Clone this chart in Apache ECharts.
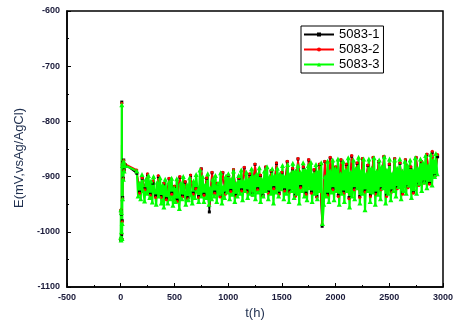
<!DOCTYPE html>
<html>
<head>
<meta charset="utf-8">
<script src="https://cdn.jsdelivr.net/npm/echarts@6/dist/echarts.min.js"></script>
<style>
  html, body { margin: 0; padding: 0; background: #fff; }
  #main { width: 458px; height: 332px; }
</style>
</head>
<body>
<div id="main"></div>
<script>
  // 时间 t(h)，5083-1 / 5083-2 用
  var timesA = [0, 2, 4, 6, 8, 10, 12, 14, 16, 18, 20, 24, 28, 32, 40,
    150, 175, 200, 225, 250, 275, 300, 325,
    350, 375, 400, 425, 450, 475, 500, 525,
    550, 575, 600, 625, 650, 675, 700, 725,
    750, 775, 800, 825, 850, 875, 900, 925,
    950, 975, 1000, 1025, 1050, 1075, 1100, 1125,
    1150, 1175, 1200, 1225, 1250, 1275, 1300, 1325,
    1350, 1375, 1400, 1425, 1450, 1475, 1500, 1525,
    1550, 1575, 1600, 1625, 1650, 1675, 1700, 1725,
    1750, 1775, 1800, 1825, 1850, 1875, 1900, 1925,
    1950, 1975, 2000, 2025, 2050, 2075, 2100, 2125,
    2150, 2175, 2200, 2225, 2250, 2275, 2300, 2325,
    2350, 2375, 2400, 2425, 2450, 2475, 2500, 2525,
    2550, 2575, 2600, 2625, 2650, 2675, 2700, 2725,
    2750, 2775, 2800, 2825, 2850, 2875, 2900, 2925,
    2950];

  // 时间 t(h)，5083-3 用 (采样更密)
  var timesB = [0, 2, 4, 6, 8, 10, 12, 14, 16, 18, 20, 24, 28, 32, 40,
    150, 162, 174, 186, 198, 210, 222, 234, 246, 258,
    270, 282, 294, 306, 318, 330, 342, 354, 366, 378,
    390, 402, 414, 426, 438, 450, 462, 474, 486, 498,
    510, 522, 534, 546, 558, 570, 582, 594, 606, 618,
    630, 642, 654, 666, 678, 690, 702, 714, 726, 738,
    750, 762, 774, 786, 798, 810, 822, 834, 846, 858,
    870, 882, 894, 906, 918, 930, 942, 954, 966, 978,
    990, 1002, 1014, 1026, 1038, 1050, 1062, 1074, 1086, 1098,
    1110, 1122, 1134, 1146, 1158, 1170, 1182, 1194, 1206, 1218,
    1230, 1242, 1254, 1266, 1278, 1290, 1302, 1314, 1326, 1338,
    1350, 1362, 1374, 1386, 1398, 1410, 1422, 1434, 1446, 1458,
    1470, 1482, 1494, 1506, 1518, 1530, 1542, 1554, 1566, 1578,
    1590, 1602, 1614, 1626, 1638, 1650, 1662, 1674, 1686, 1698,
    1710, 1722, 1734, 1746, 1758, 1770, 1782, 1794, 1806, 1818,
    1830, 1842, 1854, 1866, 1878, 1890, 1902, 1914, 1926, 1938,
    1950, 1962, 1974, 1986, 1998, 2010, 2022, 2034, 2046, 2058,
    2070, 2082, 2094, 2106, 2118, 2130, 2142, 2154, 2166, 2178,
    2190, 2202, 2214, 2226, 2238, 2250, 2262, 2274, 2286, 2298,
    2310, 2322, 2334, 2346, 2358, 2370, 2382, 2394, 2406, 2418,
    2430, 2442, 2454, 2466, 2478, 2490, 2502, 2514, 2526, 2538,
    2550, 2562, 2574, 2586, 2598, 2610, 2622, 2634, 2646, 2658,
    2670, 2682, 2694, 2706, 2718, 2730, 2742, 2754, 2766, 2778,
    2790, 2802, 2814, 2826, 2838, 2850, 2862, 2874, 2886, 2898,
    2910, 2922, 2934, 2946];

  var e5083_1 = [-1015, -962, -1012, -968, -1005, -765, -1014, -980, -878, -938, -874, -903, -870, -888, -878,
    -894, -928, -903, -922, -896, -932, -912, -935,
    -900, -936, -913, -940, -904, -930, -918, -942,
    -901, -935, -910, -938, -898, -930, -922, -936,
    -886, -932, -903, -964, -893, -928, -913, -935,
    -893, -930, -898, -925, -888, -934, -903, -924,
    -884, -926, -896, -932, -878, -922, -898, -934,
    -883, -928, -890, -920, -876, -930, -893, -924,
    -873, -926, -886, -934, -868, -918, -883, -930,
    -870, -928, -888, -936, -878, -990, -873, -932,
    -866, -922, -883, -934, -870, -928, -878, -938,
    -863, -922, -876, -936, -868, -926, -880, -934,
    -866, -930, -873, -922, -864, -934, -878, -926,
    -868, -920, -876, -930, -870, -918, -883, -928,
    -866, -914, -873, -910, -860, -912, -856, -898,
    -864];

  var e5083_2 = [-1012, -960, -1014, -965, -1002, -767, -1013, -982, -879, -940, -875, -904, -871, -889, -877,
    -888, -930, -902, -924, -895, -934, -908, -938,
    -898, -938, -912, -942, -903, -932, -917, -945,
    -900, -937, -909, -940, -897, -932, -922, -938,
    -886, -934, -902, -950, -892, -930, -912, -937,
    -892, -932, -897, -927, -887, -936, -902, -926,
    -883, -928, -895, -934, -877, -924, -897, -936,
    -882, -930, -889, -922, -875, -932, -892, -926,
    -872, -928, -885, -936, -867, -920, -882, -932,
    -869, -930, -887, -938, -877, -986, -872, -934,
    -865, -924, -882, -936, -869, -930, -877, -940,
    -862, -924, -875, -938, -867, -928, -879, -936,
    -865, -932, -872, -924, -863, -936, -877, -928,
    -867, -922, -875, -932, -869, -920, -882, -930,
    -865, -916, -872, -912, -859, -914, -854, -900,
    -860];

  var e5083_3 = [-1010, -960, -1015, -965, -1000, -770, -1012, -985, -880, -940, -875, -905, -872, -890, -880,
    -890, -935, -912, -940, -896, -925, -944, -905, -930, -898,
    -938, -908, -946, -900, -926, -950, -910, -935, -902, -948,
    -915, -955, -905, -930, -948, -910, -940, -903, -952, -920,
    -945, -904, -935, -958, -912, -940, -900, -928, -950, -915,
    -942, -902, -932, -948, -908, -938, -896, -925, -945, -888,
    -935, -900, -945, -915, -938, -895, -950, -920, -940, -905,
    -935, -898, -945, -912, -930, -893, -948, -918, -938, -900,
    -928, -895, -940, -905, -932, -890, -945, -912, -935, -898,
    -930, -888, -942, -908, -925, -892, -938, -905, -930, -886,
    -932, -900, -940, -895, -928, -884, -945, -905, -935, -890,
    -925, -882, -940, -900, -930, -886, -948, -898, -928, -885,
    -935, -895, -922, -880, -940, -900, -930, -878, -945, -895,
    -925, -876, -938, -890, -930, -880, -948, -892, -925, -875,
    -935, -888, -942, -880, -920, -874, -945, -895, -930, -878,
    -940, -890, -925, -875, -985, -950, -900, -935, -872, -945,
    -890, -928, -870, -942, -885, -925, -868, -950, -895, -930,
    -872, -945, -888, -925, -866, -955, -892, -935, -870, -940,
    -885, -920, -865, -948, -890, -930, -868, -960, -895, -925,
    -868, -945, -885, -928, -866, -950, -890, -932, -870, -940,
    -882, -920, -864, -948, -888, -930, -868, -942, -895, -925,
    -870, -935, -885, -918, -868, -940, -890, -925, -872, -930,
    -880, -915, -870, -938, -888, -922, -866, -930, -885, -912,
    -868, -925, -875, -910, -862, -920, -880, -905, -860, -915,
    -870, -900, -858, -895];

  var seriesNames = ['5083-1', '5083-2', '5083-3'];

  function pairs(ts, vals) {
    var out = [];
    for (var i = 0; i < ts.length; i++) {
      out.push([ts[i], vals[i]]);
    }
    return out;
  }

  var tickText = {
    color: '#1a1a3a',
    fontSize: 9,
    fontWeight: 'bold',
    fontFamily: 'Liberation Sans, Arial, sans-serif',
    formatter: function (v) { return String(v); }
  };

  var chart = echarts.init(document.getElementById('main'));
  chart.setOption({
    backgroundColor: '#fff',
    animation: false,
    grid: {
      left: 67,
      right: 15,
      top: 11,
      bottom: 45,
      show: true,
      borderColor: '#000',
      borderWidth: 1.5
    },
    legend: {
      orient: 'vertical',
      left: 301,
      top: 26,
      data: seriesNames,
      backgroundColor: '#fff',
      borderColor: '#000',
      borderWidth: 1,
      padding: [2, 4, 2, 2],
      itemWidth: 30,
      itemHeight: 5,
      itemGap: 2,
      textStyle: {
        fontSize: 13,
        color: '#000',
        fontFamily: 'Liberation Sans, Arial, sans-serif'
      }
    },
    xAxis: {
      type: 'value',
      min: -500,
      max: 3000,
      interval: 500,
      name: 't(h)',
      nameLocation: 'middle',
      nameGap: 18,
      nameTextStyle: {
        fontSize: 13,
        color: '#1f2f4f',
        fontFamily: 'Liberation Sans, Arial, sans-serif'
      },
      axisLine: { onZero: false, lineStyle: { color: '#000', width: 1.5 } },
      axisTick: { inside: true, length: 4, lineStyle: { color: '#000' } },
      minorTick: { show: true, splitNumber: 2, length: 2, lineStyle: { color: '#000' } },
      splitLine: { show: false },
      axisLabel: Object.assign({ margin: 6 }, tickText)
    },
    yAxis: {
      type: 'value',
      min: -1100,
      max: -600,
      interval: 100,
      name: 'E(mV,vsAg/AgCl)',
      nameLocation: 'middle',
      nameGap: 36,
      nameTextStyle: {
        fontSize: 13,
        color: '#1f2f4f',
        fontFamily: 'Liberation Sans, Arial, sans-serif',
        padding: [0, 18, 0, 0]
      },
      axisLine: { onZero: false, lineStyle: { color: '#000', width: 1.5 } },
      axisTick: { inside: true, length: 4, lineStyle: { color: '#000' } },
      minorTick: { show: true, splitNumber: 2, length: 2, lineStyle: { color: '#000' } },
      splitLine: { show: false },
      axisLabel: Object.assign({ margin: 7 }, tickText)
    },
    series: [
      {
        name: seriesNames[0],
        type: 'line',
        data: pairs(timesA, e5083_1),
        color: '#000',
        symbol: 'rect',
        symbolSize: 3,
        showAllSymbol: true,
        lineStyle: { width: 1.5 }
      },
      {
        name: seriesNames[1],
        type: 'line',
        data: pairs(timesA, e5083_2),
        color: '#ff0000',
        symbol: 'circle',
        symbolSize: 3,
        showAllSymbol: true,
        lineStyle: { width: 1.5 }
      },
      {
        name: seriesNames[2],
        type: 'line',
        data: pairs(timesB, e5083_3),
        color: '#00ff00',
        symbol: 'triangle',
        symbolSize: 5,
        showAllSymbol: true,
        lineStyle: { width: 2.2 }
      }
    ]
  });
</script>
</body>
</html>
